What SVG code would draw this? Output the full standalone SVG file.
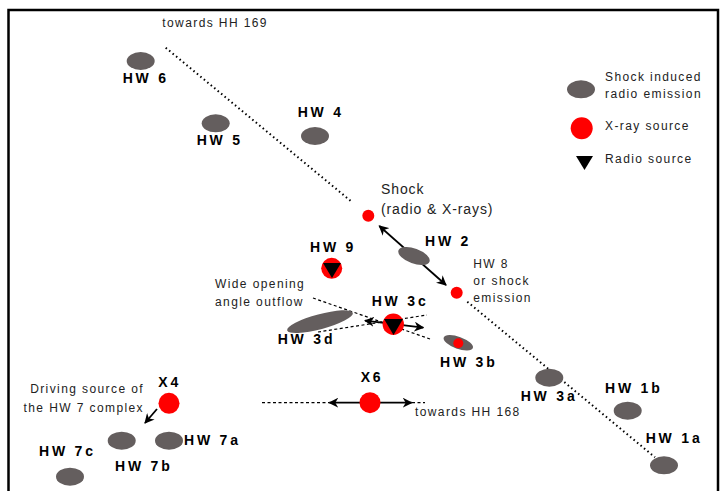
<svg xmlns="http://www.w3.org/2000/svg" width="721" height="491" viewBox="0 0 721 491">
<style>
.lbl{font-family:"Liberation Sans",Arial,sans-serif;font-weight:bold;font-size:14px;letter-spacing:2.8px;fill:#000}
.txt{font-family:"Liberation Sans",Arial,sans-serif;font-size:12px;letter-spacing:1.4px;fill:#222}
.big{font-size:14px;letter-spacing:0.9px}
.blob{fill:#645e5e}
.xray{fill:#ff0000}
.radio{fill:#000}
.dot{fill:none;stroke:#000;stroke-width:2;stroke-dasharray:1.5 3}
.dash{fill:none;stroke:#000;stroke-width:1.2;stroke-dasharray:3 2.5}
.arr{fill:none;stroke:#000;stroke-width:1.8}
</style>
<defs>
<marker id="ah" viewBox="0 0 10 10" refX="9" refY="5" markerWidth="10" markerHeight="10" markerUnits="userSpaceOnUse" orient="auto-start-reverse">
<path d="M0,0 L10,5 L0,10 L3,5 z" fill="#000"/>
</marker>
</defs>
<rect x="8.5" y="10" width="709.5" height="495" fill="#fff" stroke="#000" stroke-width="2.5"/>

<g id="connectors">
<line class="dot" x1="165.7" y1="47.7" x2="352.3" y2="202.3"/>
<line class="dot" x1="467.3" y1="301.7" x2="655" y2="457.3"/>
<line class="dash" x1="313" y1="298" x2="430" y2="339"/>
<line class="dash" x1="318" y1="332" x2="427" y2="315"/>
<line class="dash" x1="262" y1="402.7" x2="329" y2="402.7"/>
<line class="dash" x1="412" y1="402.7" x2="425" y2="402.7"/>
<line class="arr" x1="379.3" y1="226" x2="446" y2="285" marker-start="url(#ah)" marker-end="url(#ah)"/>
<line class="arr" x1="365" y1="320.7" x2="423.3" y2="327.7" marker-start="url(#ah)" marker-end="url(#ah)"/>
<line class="arr" x1="329.3" y1="402.7" x2="411.7" y2="402.7" marker-start="url(#ah)" marker-end="url(#ah)"/>
<line class="arr" x1="157" y1="409" x2="145" y2="423" marker-end="url(#ah)"/>
</g>

<text class="txt" x="162.3" y="27.3">towards HH 169</text>

<g id="hw6"><ellipse class="blob" cx="140.7" cy="61" rx="14" ry="9"/><text class="lbl" x="122.7" y="83.3">HW 6</text></g>
<g id="hw5"><ellipse class="blob" cx="215.7" cy="123.3" rx="14" ry="9"/><text class="lbl" x="196.7" y="145">HW 5</text></g>
<g id="hw4"><ellipse class="blob" cx="315" cy="136" rx="14" ry="9"/><text class="lbl" x="297.7" y="117.3">HW 4</text></g>

<g id="shock"><circle class="xray" cx="368.3" cy="215.7" r="6"/><text class="txt big" x="381" y="194">Shock</text><text class="txt big" x="381" y="214.3">(radio &amp; X-rays)</text></g>
<g id="hw2"><ellipse class="blob" cx="414" cy="256" rx="16.5" ry="7.5" transform="rotate(20 414 256)"/><text class="lbl" x="425" y="246">HW 2</text></g>
<g id="hw8"><circle class="xray" cx="456.7" cy="292.7" r="6"/><text class="txt" x="473.3" y="267.7">HW 8</text><text class="txt" x="473.3" y="285">or shock</text><text class="txt" x="473.3" y="302.3">emission</text></g>

<g id="hw9"><circle class="xray" cx="331.7" cy="268.3" r="10.5"/><polygon class="radio" points="323,263 341,263 332,278"/><text class="lbl" x="310" y="251.7">HW 9</text></g>

<g id="outflow"><text class="txt" x="215" y="288.3">Wide opening</text><text class="txt" x="215" y="306">angle outflow</text></g>
<g id="hw3d"><ellipse class="blob" cx="320" cy="321.7" rx="34" ry="7.5" transform="rotate(-15 320 321.7)"/><text class="lbl" x="277.7" y="344.3">HW 3d</text></g>
<g id="hw3c"><circle class="xray" cx="393.3" cy="324.3" r="10.7"/><polygon class="radio" points="384,319 403,319 393.5,335"/><text class="lbl" x="371.7" y="305.7">HW 3c</text></g>
<g id="hw3b"><ellipse class="blob" cx="458.3" cy="342.8" rx="15.5" ry="6" transform="rotate(20 458.3 342.8)"/><circle class="xray" cx="458.3" cy="343.3" r="5"/><text class="lbl" x="440" y="366.7">HW 3b</text></g>
<g id="hw3a"><ellipse class="blob" cx="549.3" cy="377.7" rx="14" ry="9"/><text class="lbl" x="520.7" y="400.7">HW 3a</text></g>
<g id="hw1b"><ellipse class="blob" cx="627.7" cy="410.7" rx="14" ry="9"/><text class="lbl" x="605" y="393.3">HW 1b</text></g>
<g id="hw1a"><ellipse class="blob" cx="664" cy="465.3" rx="14" ry="9"/><text class="lbl" x="645.7" y="442.7">HW 1a</text></g>

<g id="x6"><circle class="xray" cx="370" cy="402.7" r="10.5"/><text class="lbl" x="360.7" y="382.3">X6</text><text class="txt" x="415" y="415.7">towards HH 168</text></g>
<g id="x4"><circle class="xray" cx="169" cy="403.3" r="10.5"/><text class="lbl" x="158.3" y="386.7">X4</text><text class="txt" x="144" y="393.3" text-anchor="end">Driving source of</text><text class="txt" x="144" y="412.3" text-anchor="end">the HW 7 complex</text></g>
<g id="hw7a"><ellipse class="blob" cx="169" cy="440.7" rx="14" ry="9"/><text class="lbl" x="184" y="445">HW 7a</text></g>
<g id="hw7b"><ellipse class="blob" cx="121.7" cy="440.7" rx="14" ry="9"/><text class="lbl" x="115" y="470.7">HW 7b</text></g>
<g id="hw7c"><ellipse class="blob" cx="70" cy="476.7" rx="14" ry="9"/><text class="lbl" x="39" y="456">HW 7c</text></g>

<g id="legend">
<ellipse class="blob" cx="581" cy="89.3" rx="14" ry="9"/>
<text class="txt" x="605" y="80.7">Shock induced</text><text class="txt" x="605" y="98.3">radio emission</text>
<circle class="xray" cx="581.7" cy="128.3" r="11"/>
<text class="txt" x="605" y="130">X-ray source</text>
<polygon class="radio" points="576,156 593,156 584.5,170"/>
<text class="txt" x="605" y="163.3">Radio source</text>
</g>
</svg>
